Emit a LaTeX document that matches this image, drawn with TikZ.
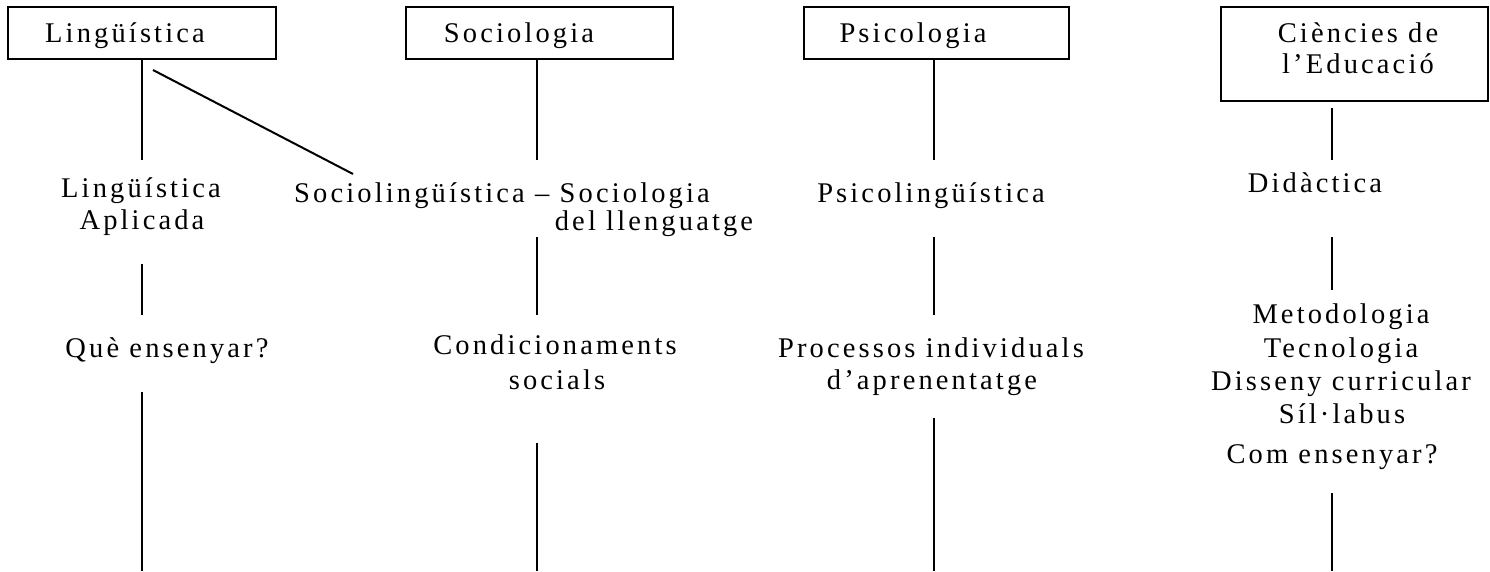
\documentclass[tikz,border=0pt]{standalone}
\usepackage{fontspec}
\setmainfont{Liberation Serif}[LetterSpace=11]
\begin{document}
\begin{tikzpicture}[x=1pt,y=-1pt,line width=2pt,
  boxst/.style={draw,line width=2pt,inner sep=0pt},
  txt/.style={inner sep=0pt,anchor=base,font=\fontsize{28.5}{34}\selectfont}]
\useasboundingbox (0,0) rectangle (1490,571);
% boxes
\node[boxst,minimum width=268pt,minimum height=52pt] (b1) at (142,33) {};
\node[boxst,minimum width=267pt,minimum height=52pt] (b2) at (539.5,33) {};
\node[boxst,minimum width=265pt,minimum height=52pt] (b3) at (936.5,33) {};
\node[boxst,minimum width=267pt,minimum height=94pt] (b4) at (1354.5,54) {};
\node[txt] (t1) at (125,42) {Lingüística};
\node[txt] (t2) at (519,42) {Sociologia};
\node[txt] (t3) at (913,42) {Psicologia};
\node[txt] (t4a) at (1358,42) {Ciències de};
\node[txt] (t4b) at (1358,73) {l’Educació};
% column 1
\node[txt] (la1) at (141,197) {Lingüística};
\node[txt] (la2) at (142,229) {Aplicada};
\node[txt] (q1) at (167,357) {Què ensenyar?};
% column 2
\node[txt] (s1) at (502,202) {Sociolingüística – Sociologia};
\node[txt] (s2) at (654,230) {del llenguatge};
\node[txt] (c1) at (555,354) {Condicionaments};
\node[txt] (c2) at (557,389) {socials};
% column 3
\node[txt] (p1) at (931,202) {Psicolingüística};
\node[txt] (p2) at (931,357) {Processos individuals};
\node[txt] (p3) at (932,389) {d’aprenentatge};
% column 4
\node[txt] (d1) at (1315,192) {Didàctica};
\node[txt] (m1) at (1341,323) {Metodologia};
\node[txt] (m2) at (1341,357) {Tecnologia};
\node[txt] (m3) at (1341,390) {Disseny curricular};
\node[txt] (m4) at (1342,423) {Síl·labus};
\node[txt] (m5) at (1332,463) {Com ensenyar?};
% connector end points
\coordinate (a1) at (142,160);
\coordinate (a2) at (142,264);
\coordinate (a3) at (142,315);
\coordinate (a4) at (142,392);
\coordinate (a5) at (142,571);
\coordinate (g1) at (153,70);
\coordinate (g2) at (353,174);
\coordinate (e1) at (537,160);
\coordinate (e2) at (537,237);
\coordinate (e3) at (537,315);
\coordinate (e4) at (537,443);
\coordinate (e5) at (537,571);
\coordinate (f1) at (934,160);
\coordinate (f2) at (934,237);
\coordinate (f3) at (934,315);
\coordinate (f4) at (934,418);
\coordinate (f5) at (934,571);
\coordinate (h0) at (1332,108);
\coordinate (h1) at (1332,160);
\coordinate (h2) at (1332,237);
\coordinate (h3) at (1332,290);
\coordinate (h4) at (1332,493);
\coordinate (h5) at (1332,571);
% connectors
\draw (b1.south) -- (a1);
\draw (a2) -- (a3);
\draw (a4) -- (a5);
\draw (g1) -- (g2);
\draw (b2.south -| e1) -- (e1);
\draw (e2) -- (e3);
\draw (e4) -- (e5);
\draw (b3.south -| f1) -- (f1);
\draw (f2) -- (f3);
\draw (f4) -- (f5);
\draw (h0) -- (h1);
\draw (h2) -- (h3);
\draw (h4) -- (h5);
\end{tikzpicture}
\end{document}
